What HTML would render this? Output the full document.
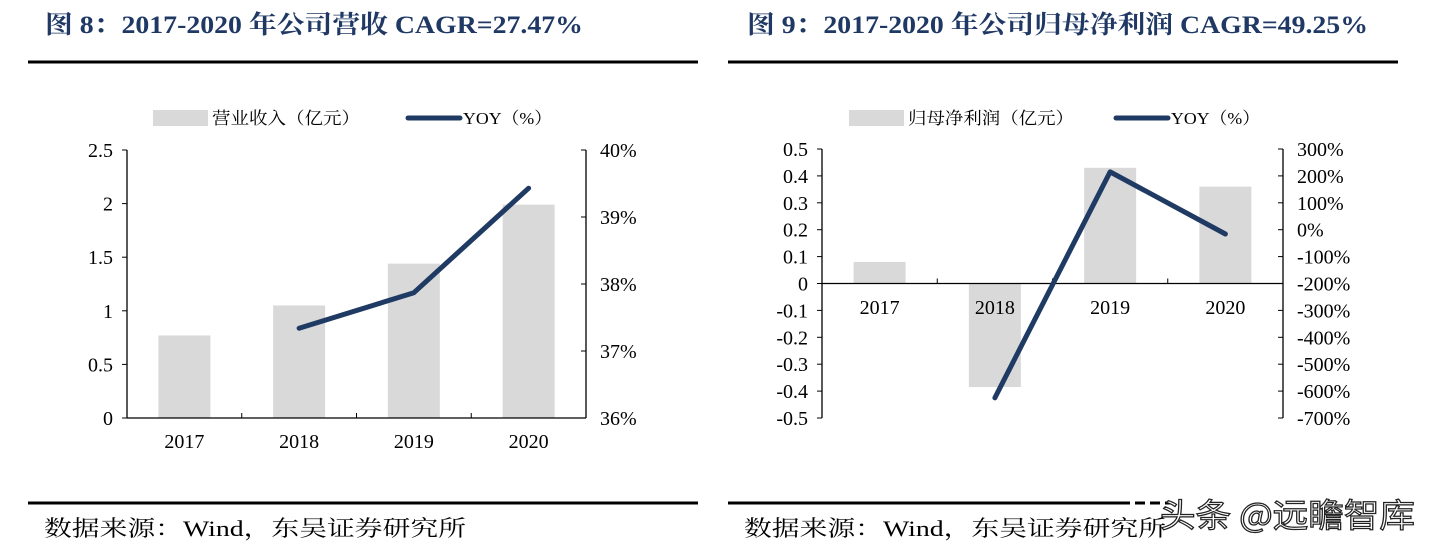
<!DOCTYPE html>
<html><head><meta charset="utf-8"><style>
body{margin:0;width:1432px;height:547px;background:#fff;overflow:hidden;font-family:"Liberation Serif","Noto Serif CJK SC",serif;}
svg{position:absolute;left:0;top:0}
</style></head><body>
<svg id="s" width="1432" height="547" xmlns="http://www.w3.org/2000/svg">
<text x="45" y="33" font-size="25" font-weight="bold" fill="#1f3864" textLength="538" lengthAdjust="spacingAndGlyphs">图 8：2017-2020 年公司营收 CAGR=27.47%</text>
<line x1="28" y1="62" x2="698" y2="62" stroke="#000" stroke-width="3"/>
<line x1="28" y1="503" x2="698" y2="503" stroke="#000" stroke-width="3"/>
<text x="44" y="536" font-size="22" fill="#000" textLength="422" lengthAdjust="spacingAndGlyphs">数据来源：Wind，东吴证券研究所</text>
<text x="747" y="33" font-size="25" font-weight="bold" fill="#1f3864" textLength="621" lengthAdjust="spacingAndGlyphs">图 9：2017-2020 年公司归母净利润 CAGR=49.25%</text>
<line x1="728" y1="62" x2="1398" y2="62" stroke="#000" stroke-width="3"/>
<line x1="728" y1="503" x2="1120" y2="503" stroke="#000" stroke-width="3"/>
<line x1="1120" y1="503" x2="1170" y2="503" stroke="#000" stroke-width="3" stroke-dasharray="10 5"/>
<text x="744" y="536" font-size="22" fill="#000" textLength="422" lengthAdjust="spacingAndGlyphs">数据来源：Wind，东吴证券研究所</text>
<text x="1160" y="527" font-size="33" fill="#fff" stroke="#222" stroke-width="1.2" textLength="255" lengthAdjust="spacingAndGlyphs" font-family="'Noto Sans CJK SC',sans-serif">头条 @远瞻智库</text>
<g id="c1"></g><g id="c2"></g>
</svg>
<script>
const years=["2017","2018","2019","2020"];
const revenue=[0.77,1.05,1.44,1.99];
const revYoy=[null,37.34,37.87,39.43];
const revTicksL=["0","0.5","1","1.5","2","2.5"];
const revTicksR=["36%","37%","38%","39%","40%"];
const profit=[0.08,-0.385,0.43,0.36];
const profYoy=[null,-625,215,-16];
const profTicksL=["-0.5","-0.4","-0.3","-0.2","-0.1","0","0.1","0.2","0.3","0.4","0.5"];
const profTicksR=["-700%","-600%","-500%","-400%","-300%","-200%","-100%","0%","100%","200%","300%"];
const NS="http://www.w3.org/2000/svg";
function mk(g,t,a,txt){const e=document.createElementNS(NS,t);for(const k in a)e.setAttribute(k,a[k]);if(txt!=null)e.textContent=txt;g.appendChild(e);return e;}
function chart(g,o){
 const {x0,x1,yTop,yBot,lmin,lmax,rmin,rmax,bars,line,tl,tr,xlabY,barName,legX,legBar}=o;
 const yl=v=>yBot-(v-lmin)/(lmax-lmin)*(yBot-yTop);
 const yr=v=>yBot-(v-rmin)/(rmax-rmin)*(yBot-yTop);
 const bw=(x1-x0)/years.length;
 const cx=i=>x0+bw*(i+0.5);
 bars.forEach((v,i)=>{const y=yl(v),y0=yl(0);
  const r=mk(g,'rect',{x:cx(i)-26,y:Math.min(y,y0),width:52,height:Math.abs(y0-y),fill:'#d9d9d9'});
  
  });
 mk(g,'line',{x1:x0,y1:yTop,x2:x0,y2:yBot,stroke:'#000','stroke-width':1.3});
 mk(g,'line',{x1:x1,y1:yTop,x2:x1,y2:yBot,stroke:'#000','stroke-width':1.3});
 const zy=yl(0);
 mk(g,'line',{x1:x0,y1:zy,x2:x1,y2:zy,stroke:'#000','stroke-width':1.3});
 for(let i=1;i<years.length;i++)mk(g,'line',{x1:x0+bw*i,y1:zy,x2:x0+bw*i,y2:zy-5,stroke:'#000'});
 tl.forEach((t,i)=>{const v=lmin+i*(lmax-lmin)/(tl.length-1),y=yl(v);
  mk(g,'line',{x1:x0-5,y1:y,x2:x0,y2:y,stroke:'#000'});
  const e=mk(g,'text',{x:x0-14,y:y+7,'font-size':20,'text-anchor':'end'},t);
  
  });
 tr.forEach((t,i)=>{const v=rmin+i*(rmax-rmin)/(tr.length-1),y=yr(v);
  mk(g,'line',{x1:x1-5,y1:y,x2:x1,y2:y,stroke:'#000'});
  const e=mk(g,'text',{x:x1+14,y:y+7,'font-size':20},t);
  
  });
 years.forEach((t,i)=>{const e=mk(g,'text',{x:cx(i),y:xlabY,'font-size':20,'text-anchor':'middle'},t);
  
  });
 const pts=line.map((v,i)=>v==null?null:[cx(i),yr(v)]).filter(p=>p);
 const p=mk(g,'polyline',{points:pts.map(q=>q.join(',')).join(' '),fill:'none',stroke:'#1f3b63','stroke-width':5,'stroke-linejoin':'round','stroke-linecap':'round'});
 
 
 const lb=mk(g,'rect',{x:legX,y:110,width:55,height:16,fill:'#d9d9d9'});
 
 
 mk(g,'text',{x:legX+59,y:124,'font-size':17,textLength:o.legLen,lengthAdjust:'spacingAndGlyphs'},barName);
 mk(g,'line',{x1:legBar,y1:118,x2:legBar+52,y2:118,stroke:'#1f3b63','stroke-width':5,'stroke-linecap':'round'});
 mk(g,'text',{x:legBar+55,y:124,'font-size':17,textLength:89,lengthAdjust:'spacingAndGlyphs'},'YOY（%）');
}
chart(document.getElementById('c1'),{x0:127,x1:586,yTop:150,yBot:418,lmin:0,lmax:2.5,rmin:36,rmax:40,bars:revenue,line:revYoy,tl:revTicksL,tr:revTicksR,xlabY:448,barName:'营业收入（亿元）',legX:153,legBar:408,legLen:148});
chart(document.getElementById('c2'),{x0:822,x1:1283,yTop:149,yBot:418,lmin:-0.5,lmax:0.5,rmin:-700,rmax:300,bars:profit,line:profYoy,tl:profTicksL,tr:profTicksR,xlabY:314,barName:'归母净利润（亿元）',legX:849,legBar:1116,legLen:166});
</script>
</body></html>
